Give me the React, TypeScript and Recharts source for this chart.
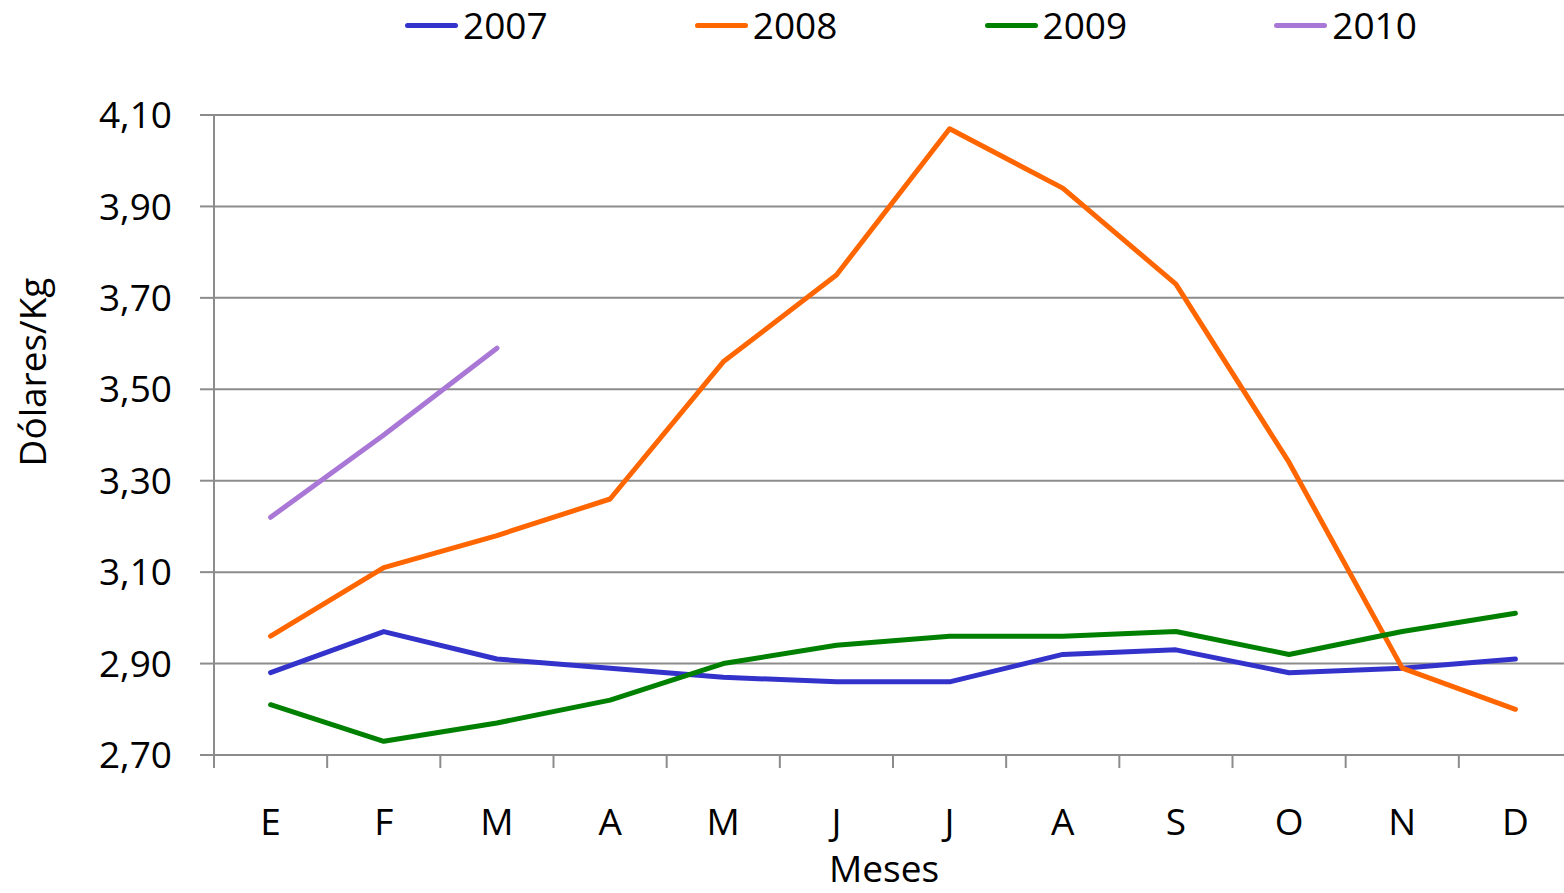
import React from 'react'
import { LineChart, Line, XAxis, YAxis, CartesianGrid, Legend } from 'recharts'

const months = ['E', 'F', 'M', 'A', 'M', 'J', 'J', 'A', 'S', 'O', 'N', 'D']
const s2007 = [2.88, 2.97, 2.91, 2.89, 2.87, 2.86, 2.86, 2.92, 2.93, 2.88, 2.89, 2.91]
const s2008 = [2.96, 3.11, 3.18, 3.26, 3.56, 3.75, 4.07, 3.94, 3.73, 3.34, 2.89, 2.80]
const s2009 = [2.81, 2.73, 2.77, 2.82, 2.90, 2.94, 2.96, 2.96, 2.97, 2.92, 2.97, 3.01]
const s2010 = [3.22, 3.40, 3.59]
const yTicks = [2.7, 2.9, 3.1, 3.3, 3.5, 3.7, 3.9, 4.1]

const data = months.map((m, i) => ({
  m,
  y2007: s2007[i],
  y2008: s2008[i],
  y2009: s2009[i],
  y2010: i < s2010.length ? s2010[i] : null,
}))

const FONT = '"Open Sans", sans-serif'
const GRAY = '#8c8c8c'
const W = 1572
const PLOT_LEFT = 214
const HALF_BAND = (W - PLOT_LEFT) / months.length / 2
const TICK_MARGIN = 54

function LegendBox({ payload }: any) {
  return (
    <div style={{ display: 'flex', paddingLeft: 405, height: 50, alignItems: 'center' }}>
      {(payload || []).map((p: any) => (
        <div key={p.value} style={{ width: 292, display: 'flex', alignItems: 'center' }}>
          <div style={{ width: 53, height: 5, borderRadius: 3, background: p.color, marginRight: 5 }} />
          <span style={{ fontSize: 37, color: '#000', fontFamily: FONT, lineHeight: '50px' }}>{p.value}</span>
        </div>
      ))}
    </div>
  )
}

// month label plus tick marks on the band edges (Excel style)
function MonthTick({ x, y, payload, index }: any) {
  const axisY = y - TICK_MARGIN
  return (
    <g>
      <line x1={x - HALF_BAND} x2={x - HALF_BAND} y1={axisY} y2={axisY + 13} stroke={GRAY} strokeWidth={2} />
      {index === months.length - 1 && (
        <line x1={x + HALF_BAND} x2={x + HALF_BAND} y1={axisY} y2={axisY + 13} stroke={GRAY} strokeWidth={2} />
      )}
      <text x={x} y={y} dy="0.71em" textAnchor="middle" fontSize={37} fontFamily={FONT} fill="#000">
        {payload.value}
      </text>
    </g>
  )
}

export default function App() {
  return (
    <div style={{ position: 'fixed', top: 0, left: 0, width: 1564, height: 893, overflow: 'hidden', background: '#fff', fontFamily: FONT }}>
      <LineChart width={W} height={893} data={data} margin={{ top: 115, right: 0, bottom: 0, left: 0 }}>
        <CartesianGrid vertical={false} stroke={GRAY} strokeWidth={2} />
        <XAxis
          dataKey="m"
          height={138}
          padding={{ left: HALF_BAND, right: HALF_BAND }}
          axisLine={false}
          tickLine={false}
          tickSize={0}
          tickMargin={TICK_MARGIN}
          tick={<MonthTick />}
          interval={0}
          label={() => (
            <text x={884} y={882} textAnchor="middle" fontSize={37} fontFamily={FONT} fill="#000">Meses</text>
          )}
        />
        <YAxis
          width={214}
          domain={[2.7, 4.1]}
          ticks={yTicks}
          allowDataOverflow
          tickSize={14}
          tickMargin={28}
          stroke={GRAY}
          strokeWidth={2}
          tick={{ fill: '#000', fontSize: 37, fontFamily: FONT }}
          tickFormatter={(v: number) => v.toFixed(2).replace('.', ',')}
          label={() => (
            <text x={46} y={372} transform="rotate(-90 46 372)" textAnchor="middle" fontSize={37} fontFamily={FONT} fill="#000">Dólares/Kg</text>
          )}
        />
        <Legend verticalAlign="middle" wrapperStyle={{ top: 0, left: 0, width: 1564, height: 50 }} content={<LegendBox />} />
        <Line type="linear" dataKey="y2007" name="2007" stroke="#3333cc" strokeWidth={5} dot={false} strokeLinecap="round" strokeLinejoin="round" isAnimationActive={false} />
        <Line type="linear" dataKey="y2008" name="2008" stroke="#ff6600" strokeWidth={5} dot={false} strokeLinecap="round" strokeLinejoin="round" isAnimationActive={false} />
        <Line type="linear" dataKey="y2009" name="2009" stroke="#008000" strokeWidth={5} dot={false} strokeLinecap="round" strokeLinejoin="round" isAnimationActive={false} />
        <Line type="linear" dataKey="y2010" name="2010" stroke="#a977d5" strokeWidth={5} dot={false} strokeLinecap="round" strokeLinejoin="round" isAnimationActive={false} />
      </LineChart>
    </div>
  )
}
